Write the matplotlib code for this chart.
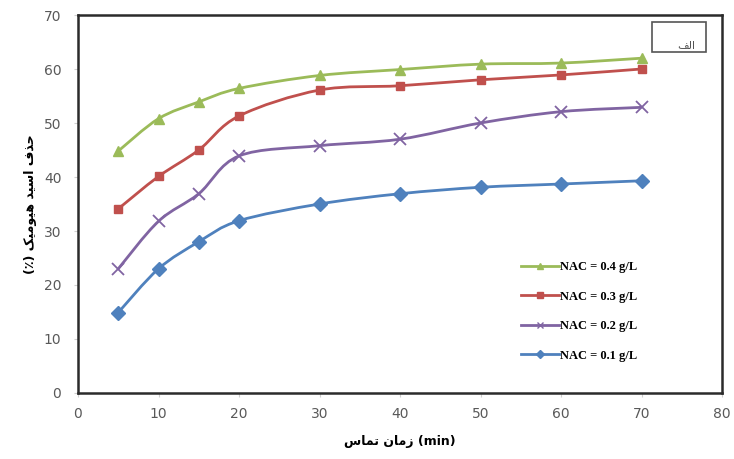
import numpy as np
import matplotlib
matplotlib.use('Agg')
import matplotlib.pyplot as plt
from matplotlib.path import Path
from matplotlib.patches import PathPatch, Rectangle
from matplotlib.lines import Line2D

# Data

time_min = [5, 10, 15, 20, 30, 40, 50, 60, 70]
nac_04 = [44.8, 50.8, 53.9, 56.4, 58.8, 59.9, 60.9, 61.1, 62.0]
nac_03 = [34.1, 40.1, 45.0, 51.3, 56.1, 56.9, 58.0, 58.9, 60.0]
nac_02 = [23.0, 31.8, 36.9, 43.9, 45.8, 47.0, 50.0, 52.1, 52.9]
nac_01 = [14.9, 23.0, 28.0, 31.9, 35.0, 36.9, 38.1, 38.7, 39.3]
labels = ['NAC = 0.4 g/L', 'NAC = 0.3 g/L', 'NAC = 0.2 g/L', 'NAC = 0.1 g/L']
colors = ['#9BBB59', '#C0504D', '#8064A2', '#4F81BD']
markers = ['^', 's', 'x', 'D']

x_ticks = [0, 10, 20, 30, 40, 50, 60, 70, 80]
y_ticks = [0, 10, 20, 30, 40, 50, 60, 70]

# Persian text: shaped by hand (matplotlib has no Arabic shaping)
# forms: isolated, final, initial, medial (None if the letter does not join left)
FORMS = {
  '\u062D': ('\uFEA1', '\uFEA2', '\uFEA3', '\uFEA4'),
  '\u0630': ('\uFEAB', '\uFEAC', None, None),
  '\u0641': ('\uFED1', '\uFED2', '\uFED3', '\uFED4'),
  '\u0627': ('\uFE8D', '\uFE8E', None, None),
  '\u0633': ('\uFEB1', '\uFEB2', '\uFEB3', '\uFEB4'),
  '\u06CC': ('\uFBFC', '\uFBFD', '\uFBFE', '\uFBFF'),
  '\u062F': ('\uFEA9', '\uFEAA', None, None),
  '\u0647': ('\uFEE9', '\uFEEA', '\uFEEB', '\uFEEC'),
  '\u0648': ('\uFEED', '\uFEEE', None, None),
  '\u0645': ('\uFEE1', '\uFEE2', '\uFEE3', '\uFEE4'),
  '\u06A9': ('\uFB8E', '\uFB8F', '\uFB90', '\uFB91'),
  '\u0632': ('\uFEAF', '\uFEB0', None, None),
  '\u0646': ('\uFEE5', '\uFEE6', '\uFEE7', '\uFEE8'),
  '\u062A': ('\uFE95', '\uFE96', '\uFE97', '\uFE98'),
  '\u0644': ('\uFEDD', '\uFEDE', '\uFEDF', '\uFEE0'),
}

def rtl(text):
  out = []
  for i, ch in enumerate(text):
    if ch not in FORMS:
      out.append(ch)
      continue
    prev = text[i-1] if i > 0 else ''
    nxt = text[i+1] if i + 1 < len(text) else ''
    join_prev = prev in FORMS and FORMS[prev][2] is not None
    join_next = nxt in FORMS and FORMS[ch][2] is not None
    iso, fin, ini, med = FORMS[ch]
    if join_prev and join_next:
      out.append(med)
    elif join_prev:
      out.append(fin)
    elif join_next:
      out.append(ini)
    else:
      out.append(iso)
  return ''.join(out)[::-1]

def smooth_path(xs, ys):
  # Excel-like smoothed line: Bezier segments through every point
  p = np.column_stack([xs, ys]).astype(float)
  verts = [p[0]]
  codes = [Path.MOVETO]
  n = len(p)
  for i in range(n - 1):
    p0 = p[max(i - 1, 0)]
    p3 = p[min(i + 2, n - 1)]
    c1 = p[i] + (p[i+1] - p0) / 6
    c2 = p[i+1] - (p3 - p[i]) / 6
    verts += [c1, c2, p[i+1]]
    codes += [Path.CURVE4] * 3
  return Path(verts, codes)

fig = plt.figure(figsize=(7.34, 4.59), dpi=100)
ax = fig.add_axes([78/734, 66/459, 644/734, 378/459])

series = [nac_04, nac_03, nac_02, nac_01]
handles = []
for ys, c, m, lab in zip(series, colors, markers, labels):
  ax.add_patch(PathPatch(smooth_path(time_min, ys), facecolor='none',
                         edgecolor=c, lw=2, zorder=2))
  ms = 7 if m in ('^', 'D') else 6
  if m == 'x':
    ms = 8
  ax.plot(time_min, ys, linestyle='none', marker=m, color=c, ms=ms,
          mew=1.3 if m == 'x' else 1, zorder=3)
  handles.append(Line2D([], [], color=c, lw=2, marker=m, ms=4, mew=1))

ax.set_xlim(0, 80)
ax.set_ylim(0, 70)
ax.set_xticks(x_ticks)
ax.set_yticks(y_ticks)
ax.tick_params(colors='#d0d0d0', labelcolor='#595959', labelsize=10,
               length=3, width=0.8)
ax.tick_params(axis='x', pad=7)
ax.tick_params(axis='y', pad=9)
for s in ax.spines.values():
  s.set_color('#2b2b2b')
  s.set_linewidth(1.8)

ax.set_xlabel(rtl('زمان تماس') + ' (min)', fontsize=9, fontweight='bold',
              family=['DejaVu Sans'], labelpad=10)
ax.set_ylabel('(٪) ' + rtl('حذف اسید هیومیک'), fontsize=9, fontweight='bold',
              family=['DejaVu Sans'], labelpad=5)

leg = fig.legend(handles, labels, loc='upper left',
                 bbox_to_anchor=(510/734, 1 - 250/459), frameon=False,
                 handlelength=3.0, handletextpad=0.1, labelspacing=1.4,
                 prop={'family': 'Liberation Serif', 'weight': 'bold', 'size': 9})

# small boxed label in the top right corner
fig.patches.append(Rectangle((652/734, 1 - 52/459), 54/734, 30/459,
                             transform=fig.transFigure, facecolor='white',
                             edgecolor='#555555', lw=1.2))
fig.text(686/734, 1 - 46/459, rtl('الف'), ha='center', va='center',
         fontsize=8, color='#555555', family=['DejaVu Sans'])

fig.savefig('out.png', dpi=100)
